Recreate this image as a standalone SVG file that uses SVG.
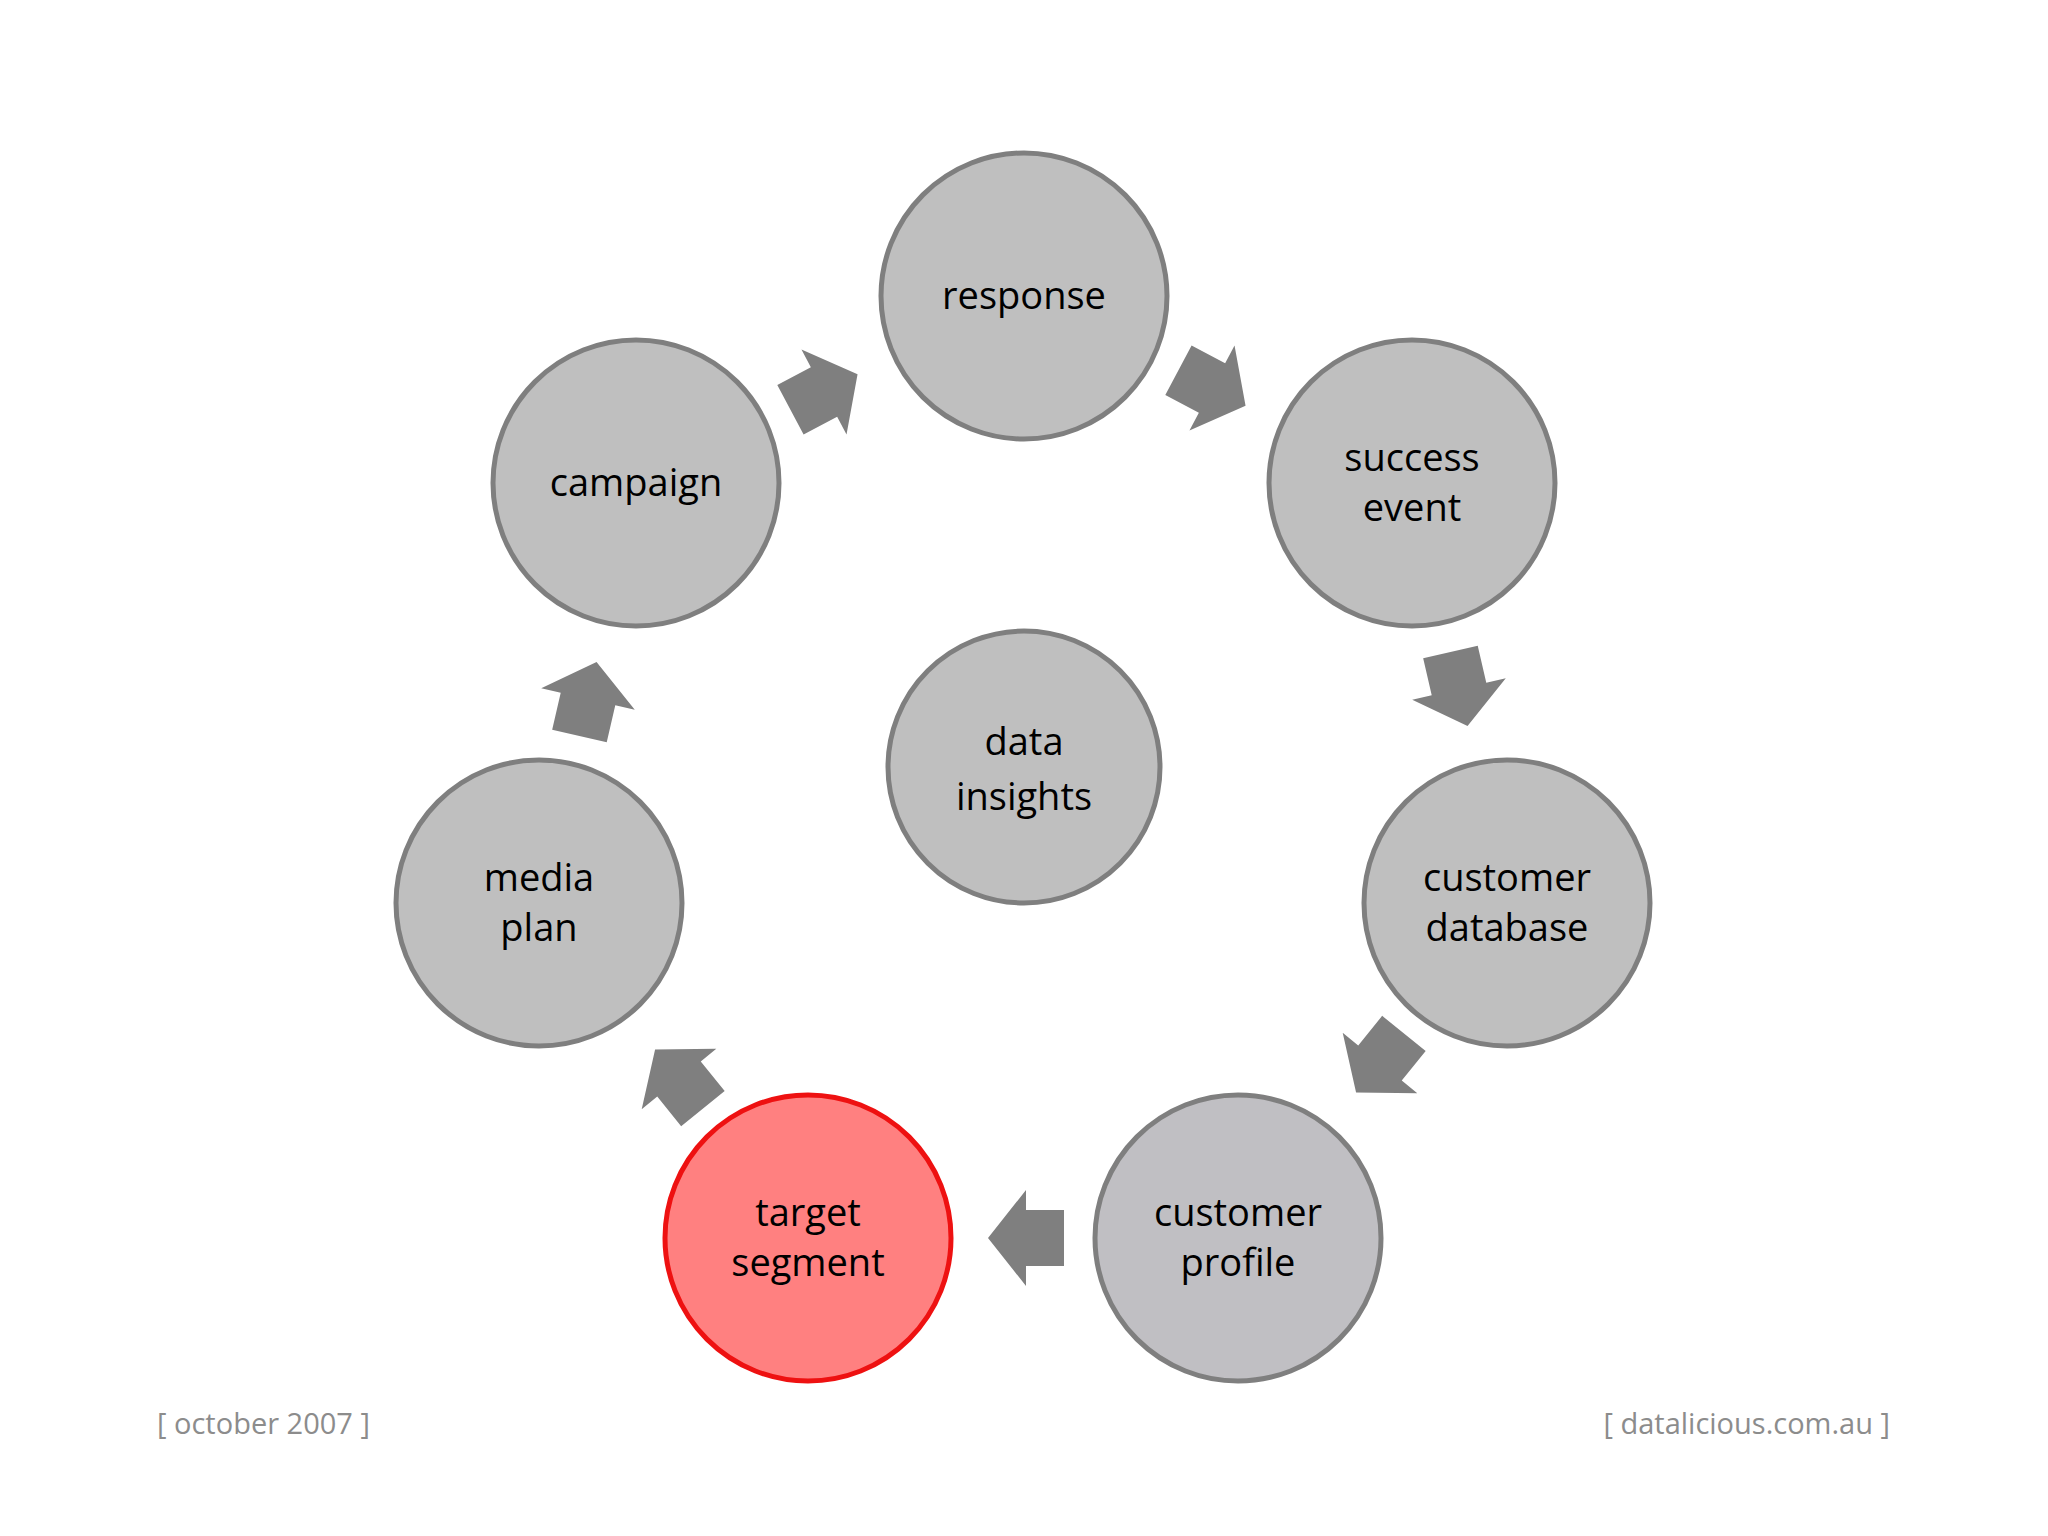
<svg xmlns="http://www.w3.org/2000/svg" width="2048" height="1536" viewBox="0 0 2048 1536">
<style>
.n{fill:#bfbfbf;stroke:#7f7f7f;stroke-width:5}
.r{fill:#ff8080;stroke:#ee1111;stroke-width:5}
.t{font-family:"Open Sans","Liberation Sans",sans-serif;font-size:38px;fill:#000;text-anchor:middle}
.f{font-family:"Open Sans","Liberation Sans",sans-serif;font-size:29px;fill:#8c8c8c}
.a{fill:#7f7f7f}
</style>
<defs><polygon id="arr" points="-38,-28 0,-28 0,-48 38,0 0,48 0,28 -38,28"/></defs>
<rect width="2048" height="1536" fill="#fff"/>
<g id="connectors">
<use href="#arr" class="a" transform="translate(824,392) rotate(-28)"/>
<use href="#arr" class="a" transform="translate(1212,388) rotate(28)"/>
<use href="#arr" class="a" transform="translate(1459,689) rotate(77)"/>
<use href="#arr" class="a" transform="translate(1380,1063) rotate(129)"/>
<use href="#arr" class="a" transform="translate(1026,1238) rotate(180)"/>
<use href="#arr" class="a" transform="translate(679,1079) rotate(-129)"/>
<use href="#arr" class="a" transform="translate(588,699) rotate(-77)"/>
</g>
<g id="response"><circle class="n" cx="1024" cy="296" r="143"/><text class="t" x="1024" y="309">response</text></g>
<g id="success"><circle class="n" cx="1412" cy="483" r="143"/><text class="t" x="1412" y="471">success</text><text class="t" x="1412" y="521">event</text></g>
<g id="customerdb"><circle class="n" cx="1507" cy="903" r="143"/><text class="t" x="1507" y="891">customer</text><text class="t" x="1507" y="941">database</text></g>
<g id="profile"><circle class="n" style="fill:#c0bfc3" cx="1238" cy="1238" r="143"/><text class="t" x="1238" y="1226">customer</text><text class="t" x="1238" y="1276">profile</text></g>
<g id="target"><circle class="r" cx="808" cy="1238" r="143"/><text class="t" x="808" y="1226">target</text><text class="t" x="808" y="1276">segment</text></g>
<g id="media"><circle class="n" cx="539" cy="903" r="143"/><text class="t" x="539" y="891">media</text><text class="t" x="539" y="941">plan</text></g>
<g id="campaign"><circle class="n" cx="636" cy="483" r="143"/><text class="t" x="636" y="496">campaign</text></g>
<g id="insights"><circle class="n" cx="1024" cy="767" r="136"/><text class="t" x="1024" y="755">data</text><text class="t" x="1024" y="810">insights</text></g>
<text class="f" x="157" y="1434">[ october 2007 ]</text>
<text class="f" x="1890" y="1434" text-anchor="end">[ datalicious.com.au ]</text>
</svg>
